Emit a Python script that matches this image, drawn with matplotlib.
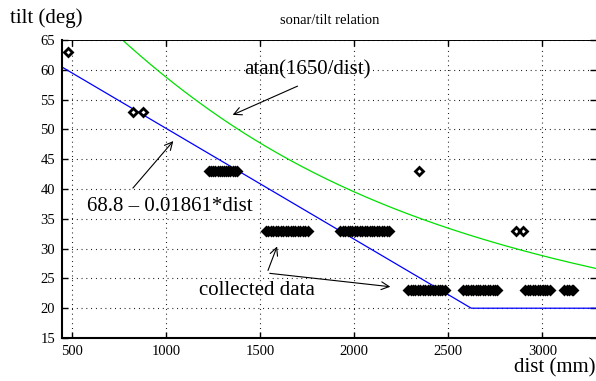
import numpy as np
import matplotlib
matplotlib.use("Agg")
from matplotlib import pyplot as plt

plt.rcParams['font.family'] = ['Liberation Serif', 'DejaVu Serif']

# collected data (dist in mm, tilt in deg)
d63 = [479]
d53 = [824, 878]
d43 = [1229, 1240, 1252, 1263, 1275, 1286, 1298, 1309, 1320, 1332, 1343,
       1355, 1366, 1378, 2346]
d33 = [1532, 1545, 1558, 1571, 1584, 1597, 1610, 1623, 1636, 1649, 1662,
       1675, 1688, 1701, 1714, 1727, 1740, 1755,
       1926, 1939, 1952, 1965, 1978, 1991, 2004, 2017, 2030, 2043, 2056,
       2069, 2082, 2095, 2108, 2121, 2134, 2147, 2160, 2173, 2186,
       2862, 2899]
d23 = [2287, 2300, 2313, 2326, 2339, 2352, 2365, 2378, 2391, 2404, 2417,
       2430, 2443, 2456, 2469, 2484,
       2580, 2593, 2606, 2619, 2632, 2645, 2658, 2671, 2684, 2697, 2710,
       2723, 2736, 2749, 2761,
       2910, 2923, 2936, 2949, 2962, 2975, 2988, 3001, 3014, 3027, 3043,
       3117, 3130, 3143, 3155, 3165]
groups = [(d63, 63), (d53, 53), (d43, 43), (d33, 33), (d23, 23)]

xticks = [500, 1000, 1500, 2000, 2500, 3000]
yticks = [15, 20, 25, 30, 35, 40, 45, 50, 55, 60, 65]

fig = plt.figure(figsize=(5.96, 3.81), dpi=100)
ax = fig.add_axes([62/596, 43/381, 534/596, 298/381])

dist = np.linspace(448, 3285, 600)
fit = np.maximum(68.8 - 0.01861 * dist, 20)
atan_curve = np.degrees(np.arctan(1650 / dist))
ax.plot(dist, fit, color='#0000ff', lw=0.9)
ax.plot(dist, atan_curve, color='#00e000', lw=0.9)

for ds, t in groups:
    ax.plot(ds, [t] * len(ds), 'D', ms=4.5, mfc='none', mec='black', mew=2,
            ls='none')

ax.set_xlim(448, 3285)
ax.set_ylim(15, 65)
ax.set_xticks(xticks)
ax.set_yticks(yticks)
ax.tick_params(direction='in', length=4, width=1, top=True, right=True,
               labelsize=10.5, pad=5)
ax.grid(True, color='black', lw=0.8, linestyle=(0, (0.8, 3.5)))
for s in ['left', 'bottom']:
    ax.spines[s].set_linewidth(1.5)
ax.spines['top'].set_linewidth(0.7)
ax.spines['top'].set_linestyle((0, (3, 1)))
ax.spines['right'].set_visible(False)

fig.text(10/596, 1 - 18/381, 'tilt (deg)', fontsize=15, va='center', ha='left')
fig.text(1.0, 1 - 368/381, 'dist (mm)', fontsize=15, va='center', ha='right')
fig.text(330/596, 1 - 20/381, 'sonar/tilt relation', fontsize=10.5,
         va='center', ha='center')

arrow = dict(arrowstyle='->', color='black', lw=0.8, mutation_scale=14)
ax.text(1750, 60, 'atan(1650/dist)', fontsize=15, ha='center', va='center')
ax.annotate('', xy=(1341, 52.25), xytext=(1713, 57.45), arrowprops=arrow)
ax.text(1022, 36.98, '68.8 \u2013 0.01861*dist', fontsize=15, ha='center',
        va='center')
ax.annotate('', xy=(1049, 48.4), xytext=(815, 39.8), arrowprops=arrow)
ax.text(1485, 23.05, 'collected data', fontsize=15, ha='center', va='center')
ax.annotate('', xy=(1596, 30.8), xytext=(1537, 25.9), arrowprops=arrow)
ax.annotate('', xy=(2207, 23.55), xytext=(1537, 25.9), arrowprops=arrow)

fig.savefig('out.png', dpi=100)
